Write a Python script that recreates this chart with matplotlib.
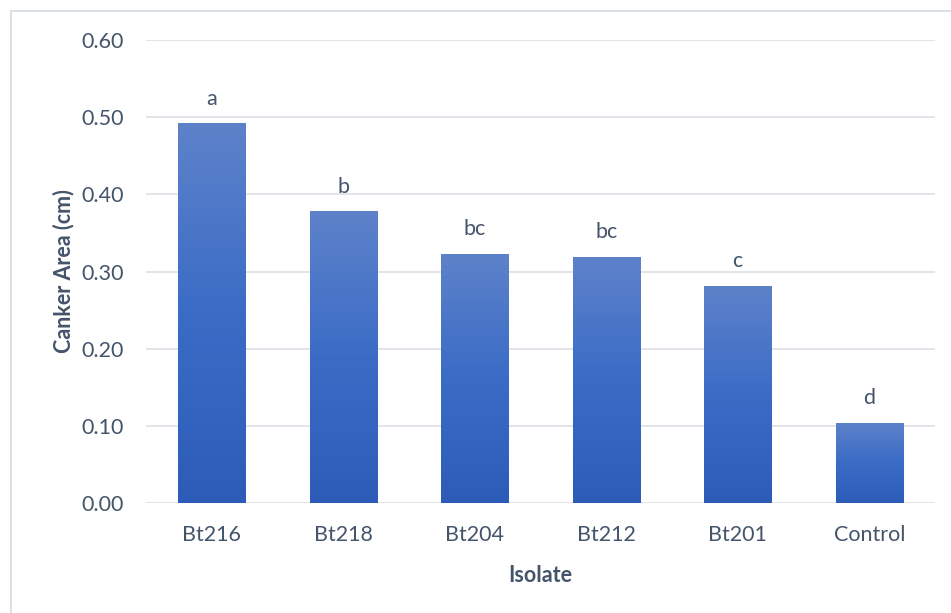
import numpy as np
import matplotlib
matplotlib.use("Agg")
import matplotlib.pyplot as plt
from matplotlib.colors import LinearSegmentedColormap
from matplotlib.lines import Line2D

# data
isolates = ["Bt216", "Bt218", "Bt204", "Bt212", "Bt201", "Control"]
canker_area = [0.492, 0.378, 0.323, 0.319, 0.281, 0.104]
letters = ["a", "b", "bc", "bc", "c", "d"]
yticks = [0.0, 0.1, 0.2, 0.3, 0.4, 0.5, 0.6]

text_col = "#44546a"
plt.rcParams["font.family"] = ["Lato", "DejaVu Sans"]
fs = 15.5

fig = plt.figure(figsize=(9.51, 6.13), dpi=100)
ax = fig.add_axes([146/951, 1 - 503/613, (935-146)/951, (503-40)/613])

# chart border (only top and left sides fall inside the picture)
bx, by = 10.5/951, 1 - 11/613
fig.lines.append(Line2D([bx, 1.0], [by, by], transform=fig.transFigure,
                        color="#d9dde5", linewidth=1.3))
fig.lines.append(Line2D([bx, bx], [0.0, by], transform=fig.transFigure,
                        color="#d9dde5", linewidth=1.3))

x = np.arange(len(isolates))
bars = ax.bar(x, canker_area, width=0.51, color="none", zorder=3)

# vertical gradient fill, lighter at top
cmap = LinearSegmentedColormap.from_list("g", ["#2c5cb8", "#3a6cc6", "#5e82ca"])
grad = np.linspace(0, 1, 256).reshape(-1, 1)
for b in bars:
    x0, w, h = b.get_x(), b.get_width(), b.get_height()
    im = ax.imshow(grad, cmap=cmap, origin="lower", aspect="auto",
                   extent=[x0, x0 + w, 0, h], zorder=3)
    im.set_clip_path(b)

for xi, v, lab in zip(x, canker_area, letters):
    ax.text(xi, v + 0.019, lab, ha="center", va="bottom", fontsize=fs, color=text_col)

ax.set_xlim(-0.5, len(isolates) - 0.5)
ax.set_ylim(0, 0.6)
ax.set_yticks(yticks)
ax.set_yticklabels([f"{t:.2f}" for t in yticks])
ax.set_xticks(x)
ax.set_xticklabels(isolates)
ax.tick_params(length=0, labelsize=fs, labelcolor=text_col)
ax.tick_params(axis="y", pad=16)
ax.tick_params(axis="x", pad=16)
ax.grid(axis="y", color="#dfe2e8", linewidth=1.3, zorder=0)
ax.set_axisbelow(True)
for s in ax.spines.values():
    s.set_visible(False)

ax.set_ylabel("Canker Area (cm)", fontsize=fs, fontweight="bold", color=text_col, labelpad=5)
ax.set_xlabel("Isolate", fontsize=fs, fontweight="bold", color=text_col, labelpad=14)

fig.savefig("out.png", dpi=100)
